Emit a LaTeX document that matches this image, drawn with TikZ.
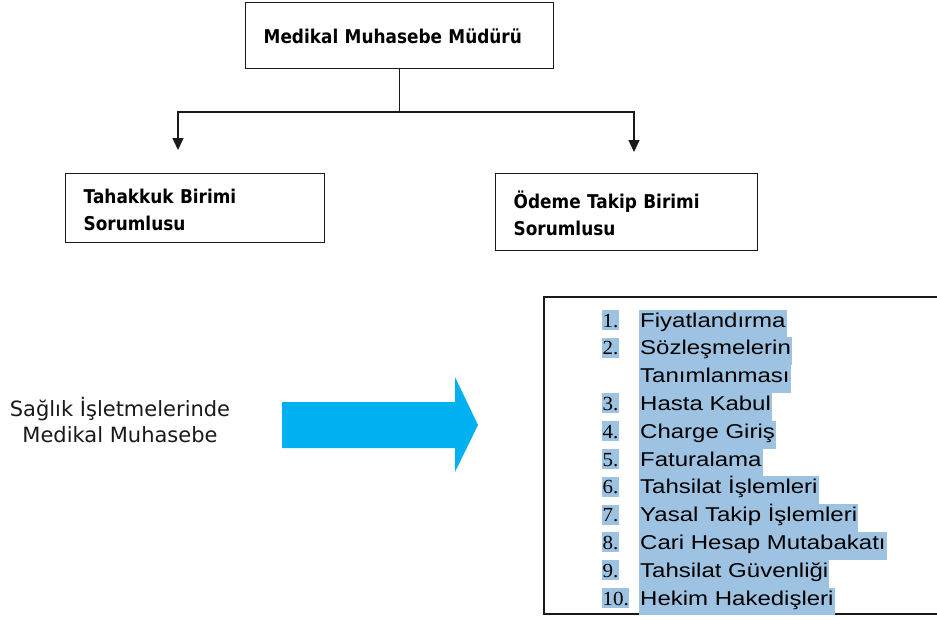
\documentclass[tikz,border=0pt]{standalone}
\usepackage{fontspec}
\setmainfont{DejaVu Sans}
\newfontfamily\titlefont[FakeStretch=0.89]{DejaVu Sans}
\newfontfamily\listfont[FakeStretch=1.2]{Liberation Sans}
\newfontfamily\numfont[FakeStretch=1.05]{Liberation Serif}
\usetikzlibrary{arrows.meta}
\definecolor{arrowblue}{RGB}{0,176,240}
\definecolor{hilite}{RGB}{158,195,226}
\definecolor{ink}{RGB}{25,25,25}

\begin{document}
\begin{tikzpicture}[x=1pt,y=-1pt,
  box/.style={draw=ink, line width=1.4pt, rectangle, anchor=north west,
    inner xsep=18pt, inner ysep=0pt, align=left,
    font=\titlefont\fontsize{19}{27.5}\selectfont\bfseries},
  link/.style={draw=ink, line width=1.4pt},
  tip/.style={-{Triangle[width=11pt,length=12pt]}},
  itemtext/.style={fill=hilite, inner xsep=1pt, inner ysep=0pt, anchor=base west,
    text height=17.5pt, text depth=10.3pt, font=\listfont\fontsize{20}{24}\selectfont},
  itemnum/.style={fill=hilite, inner xsep=0.5pt, inner ysep=0pt, anchor=base west,
    text height=17pt, text depth=3pt, font=\numfont\fontsize{20}{24}\selectfont}
]
\useasboundingbox (0,0) rectangle (937,619);

% organisation chart
\node[box, minimum width=308pt, minimum height=66pt, text width=272pt] (mgr) at (245,2)
  {\rule{0pt}{16pt}Medikal Muhasebe Müdürü};
\node[box, minimum width=259pt, minimum height=69pt, text width=223pt] (accrual) at (65,173)
  {\rule{0pt}{18pt}Tahakkuk Birimi\\Sorumlusu};
\node[box, minimum width=262pt, minimum height=77pt, text width=226pt] (payment) at (495,173)
  {\rule{0pt}{20pt}Ödeme Takip Birimi\\Sorumlusu};

\coordinate (forkLevel) at (0,112);
\coordinate (fork) at (mgr.south |- forkLevel);
\coordinate (tipL) at (178,150);
\coordinate (tipR) at (634,152);
\draw[link] (mgr.south) -- (fork);
\draw[link, tip] (fork) -| (tipL);
\draw[link, tip] (fork) -| (tipR);

% topic and arrow
\node[font=\fontsize{21}{26}\selectfont, align=center, text=ink] (topic) at (120,420)
  {Sağlık İşletmelerinde\\Medikal Muhasebe};
\fill[arrowblue] (282,402) -- (455,402) -- (455,377) -- (478,425) -- (455,472)
  -- (455,448) -- (282,448) -- cycle;

% task list
\node[draw=ink, line width=1.8pt, anchor=north west, minimum width=420pt,
  minimum height=317pt, inner sep=0pt] (listbox) at (543,296) {};
\foreach \k/\t in {0/Fiyatlandırma, 1/Sözleşmelerin\ , 2/Tanımlanması, 3/Hasta Kabul,
    4/Charge Giriş, 5/Faturalama, 6/Tahsilat İşlemleri, 7/Yasal Takip İşlemleri,
    8/Cari Hesap Mutabakatı, 9/Tahsilat Güvenliği, 10/Hekim Hakedişleri}
  \node[itemtext] (item\k) at (639, {327+27.8*\k}) {\t};
\foreach \k/\n in {0/1, 1/2, 3/3, 4/4, 5/5, 6/6, 7/7, 8/8, 9/9, 10/10}
  \node[itemnum] (num\n) at (602, {327+27.8*\k}) {\n.};
\end{tikzpicture}
\end{document}
